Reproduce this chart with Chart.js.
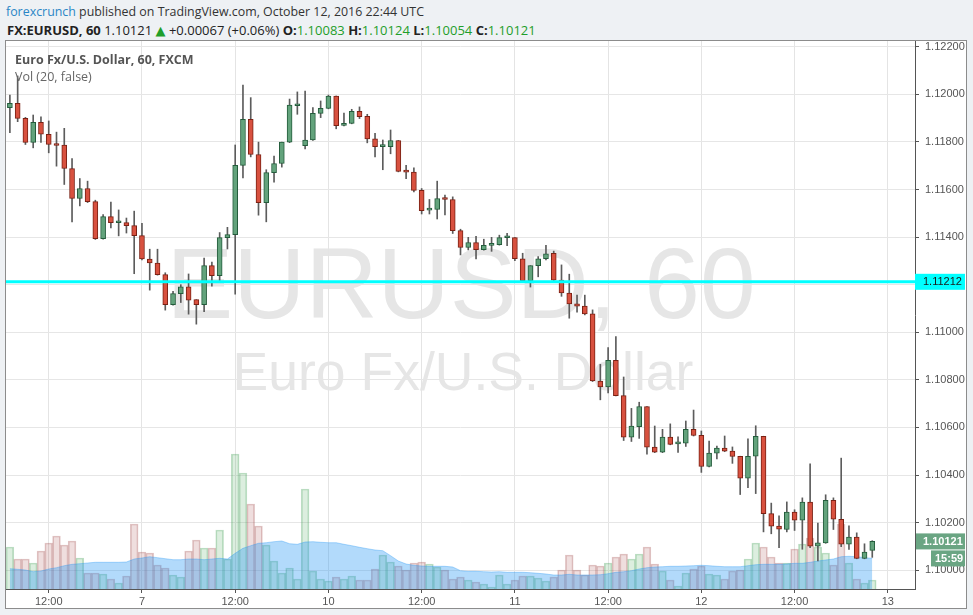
<!DOCTYPE html>
<html>
<head>
<meta charset="utf-8">
<script src="https://cdn.jsdelivr.net/npm/chart.js@4.4.0/dist/chart.umd.min.js"></script>
<style>
  html, body { margin: 0; padding: 0; }
  body { width: 973px; height: 615px; background: #eef1f4; position: relative; overflow: hidden;
         font-family: "Open Sans", "DejaVu Sans", sans-serif; }
  #hdr1 { position: absolute; left: 6px; top: 3px; font-size: 12.4px; color: #333; white-space: nowrap; }
  #hdr1 .brand { color: #2a86c6; }
  #hdr2 { position: absolute; left: 7px; top: 21px; font-size: 13px; color: #222; white-space: nowrap; }
  #hdr2 b { font-weight: 700; }
  #hdr2 .g { color: #1f9e2a; }
  #hdr2 .tri { color: #1f9e2a; font-family: "DejaVu Sans", sans-serif; font-size: 13px; }
  #panel { position: absolute; left: 6px; top: 41px; width: 960px; height: 567px; background: #fff;
           outline: 1px solid #8c8c8c; }
  .wm { position: absolute; left: 0; width: 910px; text-align: center; color: #e6e6e6;
        font-family: "Liberation Sans", Arial, sans-serif; white-space: nowrap; }
  #wm1 { top: 192px; font-size: 100px; line-height: 100px; }
  #wm2 { top: 304px; font-size: 53.5px; line-height: 54px; left: 2px; }
  #chart { position: absolute; left: 0; top: 0; }
  #title { position: absolute; left: 9px; top: 10px; font-size: 12.5px; font-weight: 700; color: #555; }
  #vol { position: absolute; left: 9px; top: 27px; font-size: 12.5px; color: #666; }
</style>
</head>
<body>
<div id="hdr1"><span class="brand">forexcrunch</span> published on TradingView.com, October 12, 2016 22:44 UTC</div>
<div id="hdr2"><b>FX:EURUSD, 60</b> 1.10121 <span class="tri">▲</span> +0.00067 (+0.06%) <b>O:</b><span class="g">1.10083</span> <b>H:</b><span class="g">1.10124</span> <b>L:</b><span class="g">1.10054</span> <b>C:</b><span class="g">1.10121</span></div>
<div id="panel">
  <div class="wm" id="wm1">EURUSD, 60</div>
  <div class="wm" id="wm2">Euro Fx/U.S. Dollar</div>
  <canvas id="chart" width="960" height="567"></canvas>
  <div id="title">Euro Fx/U.S. Dollar, 60, FXCM</div>
  <div id="vol">Vol (20, false)</div>
</div>
<script>
// hourly sessions shown (the weekend is skipped)
const sessions = [
  { day: 6, from: 7, to: 23 }, { day: 7, from: 0, to: 20 }, { day: 9, from: 21, to: 23 },
  { day: 10, from: 0, to: 23 }, { day: 11, from: 0, to: 23 }, { day: 12, from: 0, to: 23 },
  { day: 13, from: 0, to: 3 }
];

const xTicks = ['6 12:00', '7 00:00', '7 12:00', '10 00:00', '10 12:00', '11 00:00', '11 12:00', '12 00:00', '12 12:00', '13 00:00'];
const xTickText = ['12:00', '7', '12:00', '10', '12:00', '11', '12:00', '12', '12:00', '13'];
const priceTicks = [1.100, 1.102, 1.104, 1.106, 1.108, 1.110, 1.112, 1.114, 1.116, 1.118, 1.120, 1.122];

const opens = [
  1.11944, 1.11962, 1.11899, 1.11798, 1.11882, 1.11832, 1.11791, 1.11787, 1.11688, 1.11562,
  1.11604, 1.11549, 1.11393, 1.11486, 1.11460, 1.11461, 1.11448, 1.11406, 1.11308, 1.11291,
  1.11242, 1.11116, 1.11162, 1.11191, 1.11137, 1.11116, 1.11280, 1.11238, 1.11398, 1.11410,
  1.11701, 1.11895, 1.11747, 1.11545, 1.11671, 1.11709, 1.11799, 1.11952, 1.11784, 1.11808,
  1.11920, 1.11941, 1.11993, 1.11869, 1.11878, 1.11928, 1.11907, 1.11813, 1.11780, 1.11780,
  1.11806, 1.11677, 1.11673, 1.11596, 1.11513, 1.11516, 1.11563, 1.11558, 1.11427, 1.11356,
  1.11377, 1.11347, 1.11365, 1.11368, 1.11397, 1.11398, 1.11309, 1.11217, 1.11280, 1.11309,
  1.11332, 1.11219, 1.11165, 1.11119, 1.11110, 1.11077, 1.10795, 1.10770, 1.10882, 1.10734,
  1.10559, 1.10603, 1.10688, 1.10517, 1.10496, 1.10559, 1.10531, 1.10534, 1.10592, 1.10567,
  1.10436, 1.10492, 1.10513, 1.10501, 1.10479, 1.10387, 1.10479, 1.10563, 1.10238, 1.10185,
  1.10171, 1.10244, 1.10210, 1.10286, 1.10101, 1.10115, 1.10294, 1.10214, 1.10109, 1.10139,
  1.10050, 1.10083
];
const highs = [
  1.11997, 1.12077, 1.11903, 1.11913, 1.11905, 1.11888, 1.11841, 1.11857, 1.11730, 1.11646,
  1.11635, 1.11555, 1.11495, 1.11547, 1.11514, 1.11480, 1.11509, 1.11458, 1.11349, 1.11349,
  1.11250, 1.11172, 1.11200, 1.11245, 1.11137, 1.11312, 1.11295, 1.11419, 1.11441, 1.11787,
  1.12039, 1.11986, 1.11799, 1.11683, 1.11740, 1.11799, 1.11980, 1.12010, 1.12014, 1.11944,
  1.11972, 1.11997, 1.11993, 1.11921, 1.11937, 1.11947, 1.11916, 1.11836, 1.11808, 1.11850,
  1.11806, 1.11702, 1.11691, 1.11604, 1.11558, 1.11635, 1.11576, 1.11569, 1.11433, 1.11399,
  1.11403, 1.11391, 1.11399, 1.11408, 1.11416, 1.11398, 1.11332, 1.11280, 1.11318, 1.11365,
  1.11341, 1.11283, 1.11244, 1.11156, 1.11156, 1.11094, 1.10865, 1.10936, 1.10982, 1.10812,
  1.10680, 1.10706, 1.10688, 1.10606, 1.10592, 1.10615, 1.10561, 1.10627, 1.10673, 1.10585,
  1.10543, 1.10522, 1.10564, 1.10518, 1.10479, 1.10552, 1.10607, 1.10563, 1.10282, 1.10228,
  1.10287, 1.10254, 1.10304, 1.10447, 1.10198, 1.10317, 1.10304, 1.10471, 1.10186, 1.10157,
  1.10111, 1.10124
];
const lows = [
  1.11839, 1.11885, 1.11789, 1.11775, 1.11798, 1.11754, 1.11698, 1.11621, 1.11464, 1.11531,
  1.11545, 1.11390, 1.11391, 1.11438, 1.11405, 1.11417, 1.11246, 1.11304, 1.11177, 1.11240,
  1.11093, 1.11114, 1.11125, 1.11076, 1.11034, 1.11087, 1.11194, 1.11214, 1.11350, 1.11160,
  1.11649, 1.11737, 1.11492, 1.11464, 1.11631, 1.11694, 1.11797, 1.11916, 1.11770, 1.11806,
  1.11902, 1.11939, 1.11855, 1.11867, 1.11876, 1.11898, 1.11796, 1.11737, 1.11683, 1.11750,
  1.11674, 1.11645, 1.11590, 1.11497, 1.11497, 1.11476, 1.11493, 1.11415, 1.11325, 1.11346,
  1.11308, 1.11345, 1.11340, 1.11366, 1.11364, 1.11301, 1.11215, 1.11190, 1.11233, 1.11304,
  1.11217, 1.11151, 1.11059, 1.11084, 1.11073, 1.10793, 1.10716, 1.10745, 1.10732, 1.10545,
  1.10541, 1.10554, 1.10488, 1.10494, 1.10494, 1.10527, 1.10495, 1.10520, 1.10564, 1.10411,
  1.10434, 1.10468, 1.10498, 1.10449, 1.10318, 1.10347, 1.10322, 1.10161, 1.10153, 1.10095,
  1.10161, 1.10167, 1.10088, 1.10095, 1.10039, 1.10113, 1.10171, 1.10099, 1.10087, 1.10048,
  1.10048, 1.10054
];
const closes = [
  1.11962, 1.11899, 1.11798, 1.11882, 1.11832, 1.11789, 1.11785, 1.11688, 1.11562, 1.11604,
  1.11549, 1.11393, 1.11486, 1.11461, 1.11463, 1.11448, 1.11406, 1.11308, 1.11291, 1.11242,
  1.11116, 1.11163, 1.11191, 1.11135, 1.11116, 1.11280, 1.11238, 1.11398, 1.11410, 1.11701,
  1.11895, 1.11747, 1.11545, 1.11671, 1.11709, 1.11799, 1.11955, 1.11958, 1.11808, 1.11920,
  1.11941, 1.11993, 1.11868, 1.11878, 1.11928, 1.11906, 1.11813, 1.11780, 1.11781, 1.11806,
  1.11676, 1.11673, 1.11596, 1.11511, 1.11517, 1.11562, 1.11558, 1.11427, 1.11356, 1.11377,
  1.11347, 1.11365, 1.11370, 1.11398, 1.11399, 1.11309, 1.11217, 1.11280, 1.11309, 1.11330,
  1.11219, 1.11165, 1.11119, 1.11110, 1.11077, 1.10795, 1.10770, 1.10882, 1.10734, 1.10559,
  1.10606, 1.10688, 1.10517, 1.10496, 1.10559, 1.10529, 1.10536, 1.10592, 1.10566, 1.10436,
  1.10492, 1.10513, 1.10500, 1.10478, 1.10387, 1.10479, 1.10563, 1.10238, 1.10185, 1.10172,
  1.10244, 1.10210, 1.10286, 1.10101, 1.10115, 1.10294, 1.10214, 1.10109, 1.10139, 1.10050,
  1.10076, 1.10121
];
const volumes = [
  42, 30, 30, 26, 38, 46, 53, 44, 48, 31,
  16, 16, 15, 10, 6, 13, 65, 37, 36, 24,
  21, 14, 12, 38, 49, 41, 41, 59, 30, 135,
  116, 85, 63, 44, 28, 16, 21, 10, 100, 18,
  10, 8, 12, 10, 13, 9, 9, 20, 34, 27,
  23, 19, 26, 27, 25, 22, 19, 10, 12, 9,
  7, 5, 2, 14, 5, 9, 13, 13, 11, 8,
  12, 19, 34, 19, 14, 24, 23, 26, 32, 35,
  30, 35, 42, 25, 18, 9, 3, 16, 20, 23,
  15, 14, 10, 18, 19, 30, 46, 42, 32, 26,
  26, 40, 45, 51, 42, 36, 24, 65, 26, 10,
  6, 9
];
// 20-period volume average as read from the blue area
const volumeMA = [
  20.3, 19.7, 19, 17.3, 18, 20, 21.3, 23.3, 24.7, 25.3,
  26, 26.7, 26.7, 26.7, 26.7, 27, 30, 31, 32.3, 31.3,
  30.3, 29.3, 29.3, 30, 30, 29.3, 30, 30.7, 30, 35.7,
  40.7, 43.3, 45.7, 46.3, 47.3, 48, 45.3, 44.7, 47, 47.3,
  46.7, 46.3, 46.3, 44.7, 43.3, 41.7, 40.3, 39, 38.3, 33.3,
  28, 25, 23.7, 23, 22.7, 22.7, 22.7, 22, 18.3, 17.7,
  17.7, 17.3, 17, 17.3, 16.7, 16.7, 16.7, 16.3, 15.7, 15,
  14, 14, 14.7, 14, 14, 14, 14.3, 15.3, 16.7, 17.3,
  18.3, 20, 21.3, 22, 22.3, 22.7, 22.7, 23, 23.3, 23.7,
  23.3, 22.7, 22.3, 22.3, 22.3, 23.3, 24.3, 24.7, 24.7, 24.7,
  25, 25.7, 25.7, 26.7, 28, 29, 30, 32.3, 32.7, 32.3,
  31.3, 30.7
];
const levelPrice = 1.11212;
const lastClose = 1.10121;
const countdown = '15:59';

// Build category labels from the sessions
const labels = [];
sessions.forEach(s => {
  for (let h = s.from; h <= s.to; h++) {
    labels.push(s.day + ' ' + String(h).padStart(2, '0') + ':00');
  }
});

const upBody = '#63a37c', upEdge = '#245c3c';
const downBody = '#d8513f', downEdge = '#7a2114';
const isUp = opens.map((o, i) => closes[i] >= o);

const tickIdx = xTicks.map(t => labels.indexOf(t));
const axisFont = { family: '"Liberation Sans", Arial, sans-serif', size: 11 };

// Horizontal level line and price badges
const overlayPlugin = {
  id: 'overlay',
  afterDatasetsDraw(chart) {
    const { ctx, chartArea, scales } = chart;
    const y = scales.y.getPixelForValue(levelPrice);
    ctx.save();
    ctx.strokeStyle = '#00ffff';
    ctx.lineWidth = 3;
    ctx.beginPath();
    ctx.moveTo(chartArea.left, y);
    ctx.lineTo(chartArea.right, y);
    ctx.stroke();
    ctx.restore();
  },
  afterDraw(chart) {
    const { ctx, chartArea, scales } = chart;
    const x0 = chartArea.right;
    const w = chart.width - x0;
    ctx.save();
    ctx.textBaseline = 'middle';
    ctx.textAlign = 'left';

    let y = scales.y.getPixelForValue(levelPrice);
    ctx.fillStyle = '#00ffff';
    ctx.fillRect(x0, y - 8, w - 1, 16);
    ctx.fillStyle = '#1a1a1a';
    ctx.font = '11px "Liberation Sans", Arial, sans-serif';
    ctx.fillText(levelPrice.toFixed(5), x0 + 8, y + 0.5);

    y = scales.y.getPixelForValue(lastClose);
    ctx.fillStyle = '#6aa583';
    ctx.fillRect(x0 + 1, y - 8, w - 2, 16);
    ctx.fillRect(x0 + 16, y + 9, w - 17, 16);
    ctx.fillStyle = '#ffffff';
    ctx.font = 'bold 11px "Liberation Sans", Arial, sans-serif';
    ctx.fillText(lastClose.toFixed(5), x0 + 8, y + 0.5);
    ctx.fillText(countdown, x0 + 20, y + 17.5);
    ctx.restore();
  }
};

new Chart(document.getElementById('chart'), {
  type: 'bar',
  data: {
    labels: labels,
    datasets: [
      {
        label: 'Body',
        data: opens.map((o, i) => [o, closes[i]]),
        backgroundColor: isUp.map(u => u ? upBody : downBody),
        borderColor: isUp.map(u => u ? upEdge : downEdge),
        borderWidth: 1,
        borderSkipped: false,
        barThickness: 5,
        minBarLength: 2,
        grouped: false,
        yAxisID: 'y',
        order: 1
      },
      {
        label: 'Wick',
        data: lows.map((l, i) => [l, highs[i]]),
        backgroundColor: '#5c5c5c',
        borderWidth: 0,
        barThickness: 1,
        grouped: false,
        yAxisID: 'y',
        order: 2
      },
      {
        type: 'line',
        label: 'Vol MA',
        data: volumeMA,
        yAxisID: 'y2',
        borderColor: 'rgba(33, 150, 243, 0.35)',
        backgroundColor: 'rgba(33, 150, 243, 0.35)',
        borderWidth: 1,
        pointRadius: 0,
        tension: 0,
        fill: 'origin',
        order: 4
      },
      {
        label: 'Volume',
        data: volumes,
        yAxisID: 'y2',
        backgroundColor: isUp.map(u => u ? 'rgba(80, 170, 95, 0.2)' : 'rgba(175, 90, 90, 0.2)'),
        borderColor: isUp.map(u => u ? 'rgba(70, 160, 90, 0.35)' : 'rgba(165, 85, 85, 0.35)'),
        borderWidth: 1,
        categoryPercentage: 1,
        barPercentage: 1,
        grouped: false,
        order: 5
      }
    ]
  },
  options: {
    responsive: false,
    animation: false,
    events: [],
    layout: { padding: 0 },
    plugins: { legend: { display: false }, tooltip: { enabled: false } },
    scales: {
      x: {
        type: 'category',
        offset: true,
        grid: {
          offset: false,
          color: ctx => tickIdx.includes(ctx.index) ? '#e4e4e4' : 'rgba(0,0,0,0)',
          tickColor: ctx => tickIdx.includes(ctx.index) ? '#555' : 'rgba(0,0,0,0)',
          tickLength: 4
        },
        border: { color: '#555' },
        ticks: {
          autoSkip: false,
          maxRotation: 0,
          padding: 2,
          color: '#555',
          font: axisFont,
          callback: (val, idx) => {
            const k = tickIdx.indexOf(idx);
            return k >= 0 ? xTickText[k] : '';
          }
        },
        afterFit: s => { s.height = 19; s.paddingLeft = 0; s.paddingRight = 0; }
      },
      y: {
        position: 'right',
        min: 1.09921,
        max: 1.12224,
        afterBuildTicks: s => { s.ticks = priceTicks.map(v => ({ value: v })); },
        grid: { color: '#e6e6e6', tickColor: '#555', tickLength: 4 },
        border: { color: '#555' },
        ticks: {
          padding: 6,
          color: '#555',
          font: axisFont,
          callback: v => v.toFixed(5)
        },
        afterFit: s => { s.width = 51; s.paddingTop = 0; s.paddingBottom = 0; }
      },
      y2: {
        display: false,
        min: 0,
        max: 548
      }
    }
  },
  plugins: [overlayPlugin]
});
</script>
</body>
</html>
